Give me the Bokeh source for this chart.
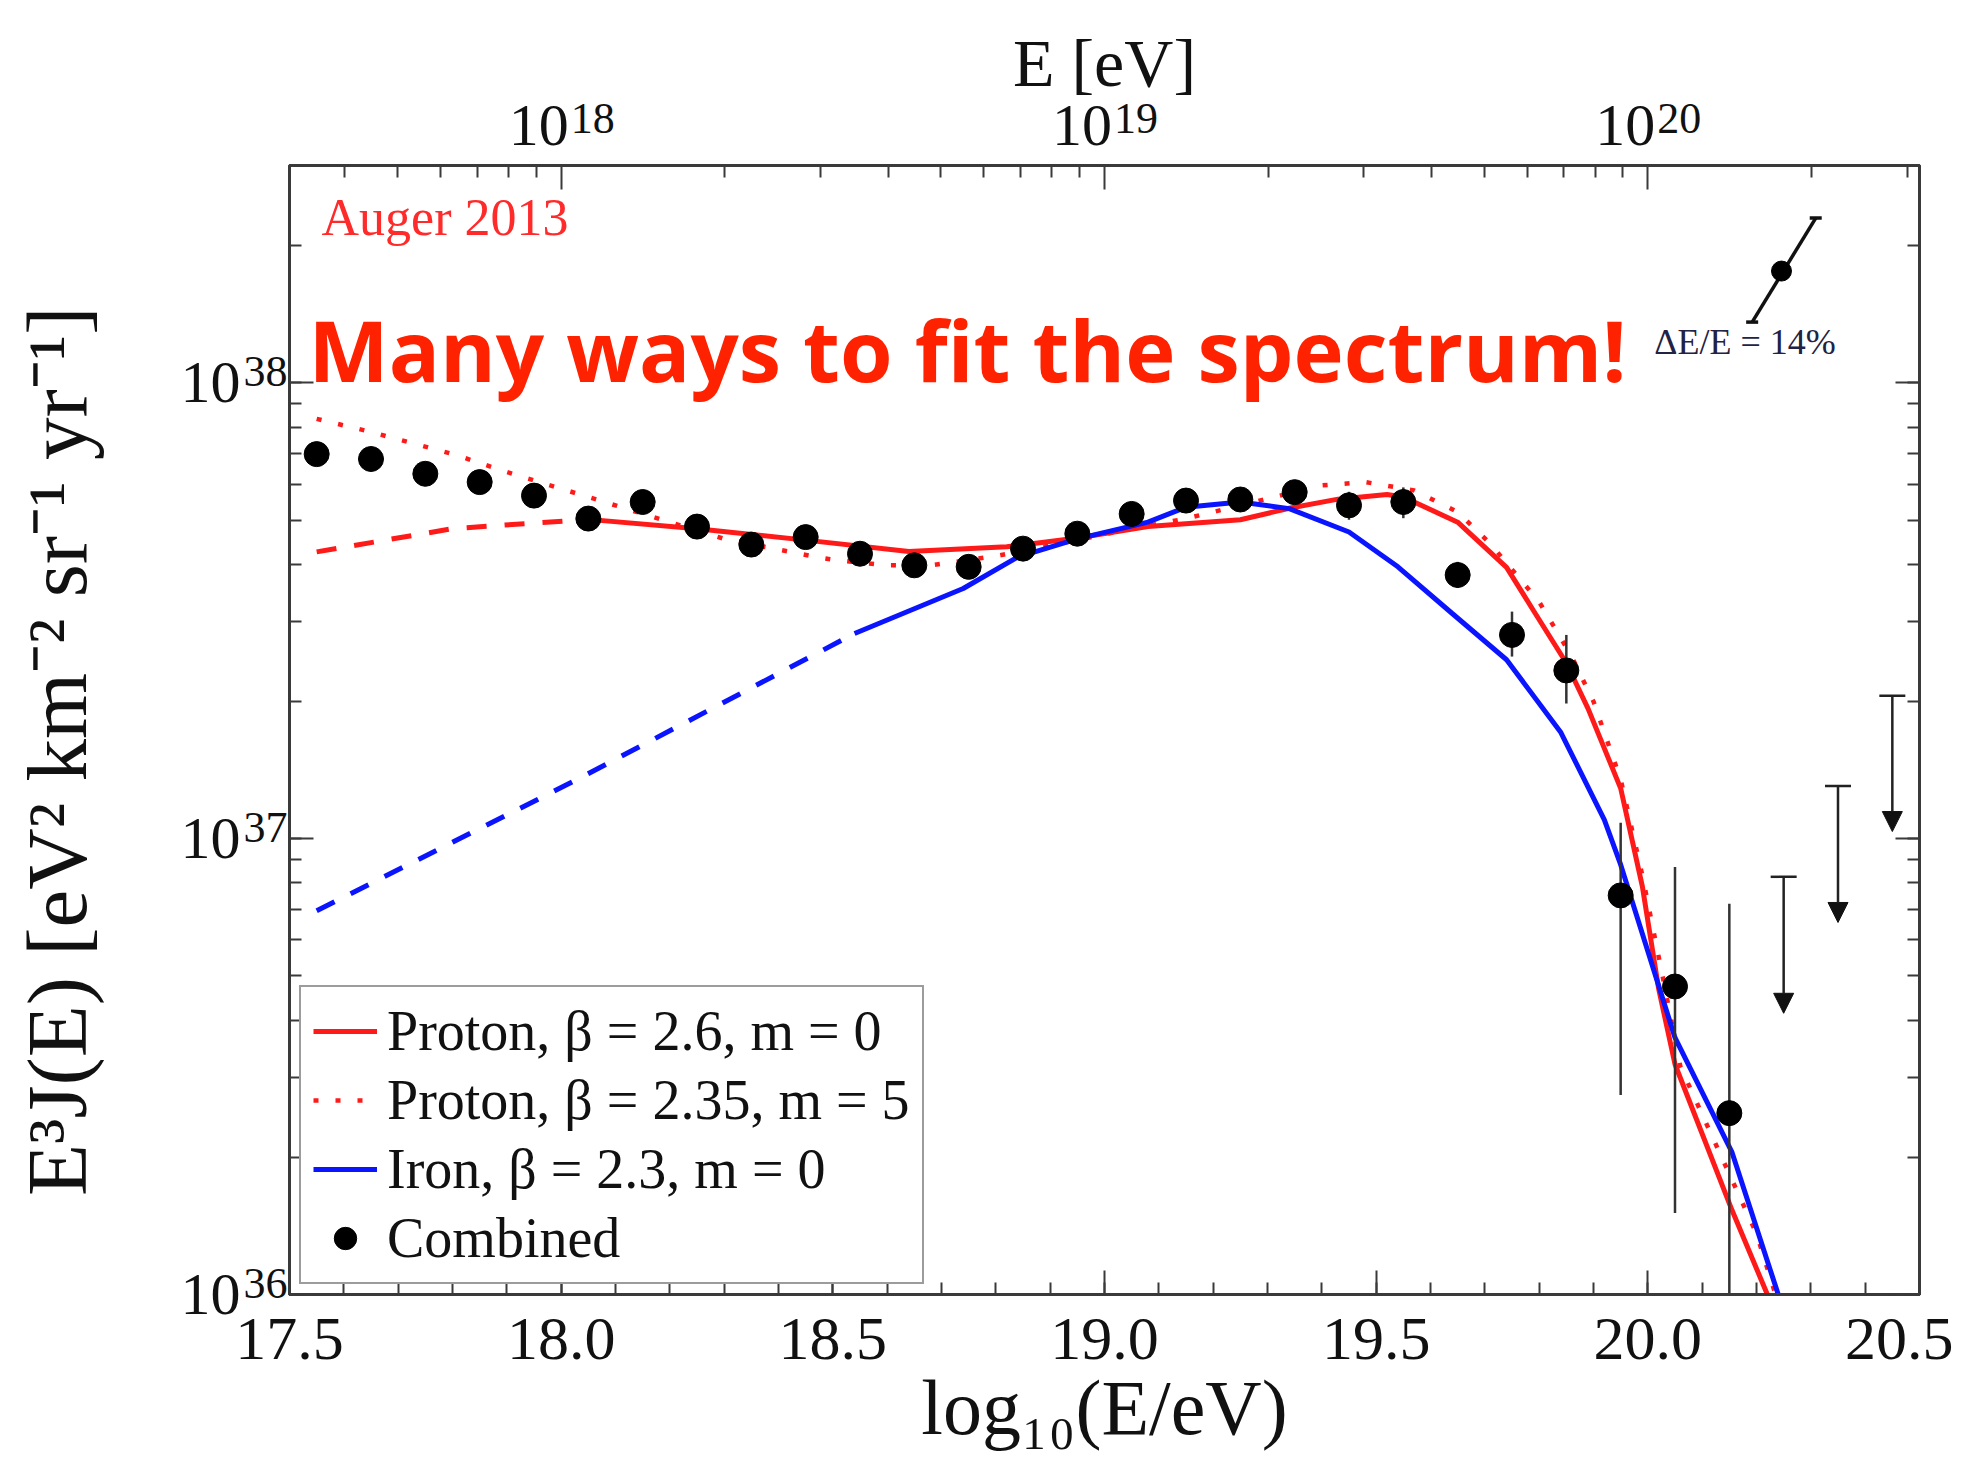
import numpy as np
from bokeh.plotting import figure
from bokeh.models import (ColumnDataSource, LinearAxis, LogAxis, FixedTicker, Range1d, LogScale,
                          Legend, LegendItem, Label, Arrow, NormalHead, TeeHead,
                          CustomJSTickFormatter, NumeralTickFormatter)
from bokeh.embed import file_html
from bokeh.resources import INLINE

# ---------------- data ----------------
combined_log_e = [17.55, 17.65, 17.75, 17.85, 17.95, 18.05, 18.15, 18.25, 18.35, 18.45,
                  18.55, 18.65, 18.75, 18.85, 18.95, 19.05, 19.15, 19.25, 19.35, 19.45,
                  19.55, 19.65, 19.75, 19.85, 19.95, 20.05, 20.15]
combined_flux = [6.98e37, 6.81e37, 6.32e37, 6.06e37, 5.66e37, 5.04e37, 5.48e37, 4.84e37, 4.42e37, 4.59e37,
                 4.22e37, 3.98e37, 3.95e37, 4.33e37, 4.67e37, 5.16e37, 5.52e37, 5.55e37, 5.76e37, 5.39e37,
                 5.48e37, 3.79e37, 2.80e37, 2.34e37, 7.51e36, 4.74e36, 2.50e36]
combined_lo = [6.90e37, 6.73e37, 6.25e37, 5.99e37, 5.59e37, 4.97e37, 5.40e37, 4.76e37, 4.34e37, 4.50e37,
               4.13e37, 3.88e37, 3.84e37, 4.20e37, 4.52e37, 4.97e37, 5.33e37, 5.29e37, 5.43e37, 5.01e37,
               5.05e37, 3.55e37, 2.51e37, 1.98e37, 2.74e36, 1.51e36, 5.0e35]
combined_hi = [7.06e37, 6.89e37, 6.40e37, 6.13e37, 5.73e37, 5.11e37, 5.56e37, 4.92e37, 4.50e37, 4.68e37,
               4.31e37, 4.08e37, 4.06e37, 4.46e37, 4.82e37, 5.35e37, 5.75e37, 5.80e37, 6.05e37, 5.77e37,
               5.90e37, 4.05e37, 3.15e37, 2.80e37, 1.084e37, 8.67e36, 7.20e36]

ul_log_e = [20.25, 20.35, 20.45]
ul_flux = [8.25e36, 1.306e37, 2.06e37]
ul_arrow_end = [4.14e36, 6.55e36, 1.037e37]

# Proton, beta = 2.6, m = 0 (dashed outside the fit range, solid inside)
p26_dash_log_e = [17.55, 17.80, 18.05]
p26_dash_flux = [4.26e37, 4.79e37, 5.02e37]
p26_log_e = [18.05, 18.25, 18.45, 18.64, 18.82, 18.95, 19.08, 19.25, 19.34, 19.43, 19.52, 19.55,
             19.65, 19.74, 19.79, 19.85, 19.89, 19.95, 19.99, 20.02, 20.05, 20.155, 20.22]
p26_flux = [5.02e37, 4.79e37, 4.52e37, 4.27e37, 4.37e37, 4.57e37, 4.84e37, 5.01e37, 5.31e37, 5.56e37,
            5.69e37, 5.62e37, 4.95e37, 3.94e37, 3.16e37, 2.43e37, 1.93e37, 1.29e37, 7.85e36, 4.68e36,
            3.20e36, 1.53e36, 1.0e36]

# Proton, beta = 2.35, m = 5 (dotted)
p235_log_e = [17.55, 17.64, 17.72, 17.81, 17.89, 17.97, 18.05, 18.13, 18.30, 18.47, 18.51, 18.60,
              18.68, 18.80, 18.95, 19.05, 19.15, 19.31, 19.40, 19.48, 19.57, 19.65, 19.71, 19.80,
              19.86, 19.90, 19.95, 19.99, 20.03, 20.06, 20.20, 20.235]
p235_flux = [8.34e37, 7.86e37, 7.41e37, 6.93e37, 6.43e37, 6.01e37, 5.62e37, 5.25e37, 4.55e37, 4.15e37,
             4.08e37, 3.98e37, 3.98e37, 4.17e37, 4.52e37, 4.79e37, 5.04e37, 5.61e37, 5.96e37, 6.06e37,
             5.81e37, 5.21e37, 4.44e37, 3.31e37, 2.51e37, 2.00e37, 1.35e37, 8.3e36, 4.8e36, 3.16e36,
             1.36e36, 1.0e36]

# Iron, beta = 2.3, m = 0
fe_dash_log_e = [17.55, 18.03, 18.54]
fe_dash_flux = [6.95e36, 1.35e37, 2.82e37]
fe_log_e = [18.54, 18.74, 18.84, 18.95, 19.08, 19.15, 19.25, 19.34, 19.45, 19.54, 19.64, 19.74,
            19.84, 19.92, 19.95, 20.05, 20.155, 20.24]
fe_flux = [2.82e37, 3.54e37, 4.15e37, 4.55e37, 4.95e37, 5.34e37, 5.48e37, 5.30e37, 4.71e37, 3.95e37,
           3.12e37, 2.47e37, 1.71e37, 1.10e37, 8.77e36, 3.66e36, 2.05e36, 1.0e36]

# energy-scale uncertainty marker (Delta E / E = 14 %)
escale_log_e = [20.246]
escale_flux = [1.76e38]
escale_end_log_e = [20.192, 20.309]
escale_end_flux = [1.36e38, 2.30e38]

x_major = [17.5, 18.0, 18.5, 19.0, 19.5, 20.0, 20.5]
top_major = [18, 19, 20]          # exponents of E [eV]
y_major = [1e36, 1e37, 1e38]

RED = "#ff1a1a"
BLUE = "#0a14ff"
SERIF = "Liberation Serif"
AXC = "#3a3a3a"
TXT = "#111111"
Y_MIN, Y_MAX = 1e36, 3e38

# ---------------- figure ----------------
p = figure(output_backend="svg", toolbar_location=None,
           frame_width=1630, frame_height=1129,
           x_range=Range1d(17.5, 20.5), y_range=Range1d(Y_MIN, Y_MAX),
           y_axis_type="log",
           min_border_left=289, min_border_right=34, min_border_top=165, min_border_bottom=140)
p.background_fill_color = "white"
p.border_fill_color = "white"
p.outline_line_color = AXC
p.outline_line_width = 3
p.xgrid.visible = False
p.ygrid.visible = False

# helper ranges that only shift the exponent labels of the tick labels
EXP_RAISE = 1.0596      # ~11 px up on the log axis
EXP_SHIFT = 0.058       # ~31 px right on the top axis
p.extra_y_ranges = {"exp": Range1d(Y_MIN / EXP_RAISE, Y_MAX / EXP_RAISE)}
p.extra_y_scales = {"exp": LogScale()}
p.extra_x_ranges = {"expx": Range1d(17.5 - EXP_SHIFT, 20.5 - EXP_SHIFT)}

x_minor = [round(17.5 + 0.1 * i, 1) for i in range(31)]
top_minor = [float(np.log10(k)) + n for n in (17, 18, 19, 20) for k in range(2, 10)]
top_minor = [t for t in top_minor if 17.5 <= t <= 20.5]
y_minor = [k * 10.0 ** n for n in (36, 37, 38) for k in range(1, 10)]


def style_axis(ax, ticks=True):
    ax.axis_line_color = AXC if ticks else None
    ax.axis_line_width = 3
    ax.major_tick_line_color = AXC if ticks else None
    ax.minor_tick_line_color = AXC if ticks else None
    ax.major_tick_line_width = 2
    ax.minor_tick_line_width = 2
    ax.major_tick_in = 24 if ticks else 0
    ax.major_tick_out = 0
    ax.minor_tick_in = 12 if ticks else 0
    ax.minor_tick_out = 0
    ax.major_label_text_font = SERIF
    ax.major_label_text_font_size = "60px"
    ax.major_label_text_color = TXT
    ax.axis_label_text_font = SERIF
    ax.axis_label_text_font_style = "normal"
    ax.axis_label_text_color = TXT


# bottom axis
xb = p.xaxis[0]
style_axis(xb)
xb.ticker = FixedTicker(ticks=x_major, minor_ticks=x_minor)
xb.formatter = NumeralTickFormatter(format="0.0")
xb.major_label_text_font_size = "62px"
xb.axis_label = "log\u2081\u2080(E/eV)"
xb.axis_label_text_font_size = "78px"
xb.major_label_standoff = 24
xb.axis_label_standoff = 2

# left: ticks (inner), exponents (middle), "10" + axis title (outer)
yl = p.yaxis[0]
style_axis(yl)
yl.ticker = FixedTicker(ticks=y_major, minor_ticks=y_minor)
yl.formatter = CustomJSTickFormatter(code="return '';")
yl.major_label_text_font_size = "1px"
yl.major_label_standoff = 0

yl_exp = LogAxis(y_range_name="exp")
style_axis(yl_exp, ticks=False)
yl_exp.ticker = FixedTicker(ticks=y_major, minor_ticks=[])
yl_exp.formatter = CustomJSTickFormatter(code="return String(Math.round(Math.log10(tick)));")
yl_exp.major_label_text_font_size = "44px"
yl_exp.major_label_standoff = 2
p.add_layout(yl_exp, "left")

yl_ten = LogAxis()
style_axis(yl_ten, ticks=False)
yl_ten.ticker = FixedTicker(ticks=y_major, minor_ticks=[])
yl_ten.formatter = CustomJSTickFormatter(code="return '10';")
yl_ten.major_label_standoff = 0
yl_ten.axis_label = "E\u00b3J(E)   [eV\u00b2 km\u207b\u00b2 sr\u207b\u00b9 yr\u207b\u00b9]"
yl_ten.axis_label_text_font_size = "85px"
yl_ten.axis_label_standoff = 74
p.add_layout(yl_ten, "left")

# top: ticks + "10" (inner), exponents + axis title (outer)
xt = LinearAxis()
style_axis(xt)
xt.ticker = FixedTicker(ticks=top_major, minor_ticks=top_minor)
xt.formatter = CustomJSTickFormatter(code="return '10\u2007\u2005';")
xt.major_label_standoff = 8
p.add_layout(xt, "above")

xt_exp = LinearAxis(x_range_name="expx")
style_axis(xt_exp, ticks=False)
xt_exp.ticker = FixedTicker(ticks=top_major, minor_ticks=[])
xt_exp.formatter = CustomJSTickFormatter(code="return String(Math.round(tick));")
xt_exp.major_label_text_font_size = "44px"
xt_exp.major_label_standoff = -44
xt_exp.axis_label = "E [eV]"
xt_exp.axis_label_text_font_size = "68px"
xt_exp.axis_label_standoff = 0
p.add_layout(xt_exp, "above")

# right axis (ticks only)
yr = LogAxis()
style_axis(yr)
yr.ticker = FixedTicker(ticks=y_major, minor_ticks=y_minor)
yr.formatter = CustomJSTickFormatter(code="return '';")
yr.major_label_text_font_size = "1px"
p.add_layout(yr, "right")

# ---------------- model curves ----------------
p.line(p26_dash_log_e, p26_dash_flux, line_color=RED, line_width=5, line_dash="20 18")
r_p26 = p.line(p26_log_e, p26_flux, line_color=RED, line_width=5)
r_p235 = p.line(p235_log_e, p235_flux, line_color=RED, line_width=4.5, line_dash="5 17")
p.line(fe_dash_log_e, fe_dash_flux, line_color=BLUE, line_width=5, line_dash="20 18")
r_fe = p.line(fe_log_e, fe_flux, line_color=BLUE, line_width=5)

# ---------------- data points ----------------
src = ColumnDataSource(dict(x=combined_log_e, y=combined_flux, lo=combined_lo, hi=combined_hi))
p.segment(x0="x", y0="lo", x1="x", y1="hi", source=src, line_color="#333333", line_width=2.5)
r_dat = p.scatter(x="x", y="y", source=src, size=25, fill_color="black", line_color="black")

ul_src = ColumnDataSource(dict(x=ul_log_e, y0=ul_flux, y1=ul_arrow_end))
p.add_layout(Arrow(source=ul_src, x_start="x", y_start="y0", x_end="x", y_end="y1",
                   line_color="#222222", line_width=2.5,
                   start=TeeHead(size=26, line_color="#222222", line_width=2.5),
                   end=NormalHead(size=20, fill_color="#111111", line_color="#111111")))

# energy scale marker
p.line(escale_end_log_e, escale_end_flux, line_color="#111111", line_width=3.5)
p.scatter(escale_end_log_e, escale_end_flux, marker="dash", size=12, line_color="#111111", line_width=3.5)
p.scatter(escale_log_e, escale_flux, size=20, fill_color="black", line_color="black")

# ---------------- texts ----------------
p.add_layout(Label(x=20.012, y=1.23e38, text="\u0394E/E = 14%", text_font=SERIF,
                   text_font_size="36px", text_color="#222244", text_baseline="alphabetic"))
p.add_layout(Label(x=17.559, y=2.31e38, text="Auger 2013", text_font=SERIF,
                   text_font_size="52px", text_color="#ff2a2a", text_baseline="alphabetic"))
p.add_layout(Label(x=17.535, y=1.19e38, text="Many ways to fit the spectrum!", text_font="Open Sans",
                   text_font_style="bold", text_font_size="85px", text_color="#ff2200",
                   text_baseline="alphabetic"))

# ---------------- legend ----------------
legend = Legend(items=[
    LegendItem(label="Proton, \u03b2 = 2.6, m = 0", renderers=[r_p26]),
    LegendItem(label="Proton, \u03b2 = 2.35, m = 5", renderers=[r_p235]),
    LegendItem(label="Iron, \u03b2 = 2.3, m = 0", renderers=[r_fe]),
    LegendItem(label="Combined", renderers=[r_dat]),
], location=(10, 10))
legend.label_text_font = SERIF
legend.label_text_font_size = "56px"
legend.label_text_color = TXT
legend.glyph_width = 64
legend.glyph_height = 56
legend.label_height = 56
legend.label_standoff = 10
legend.spacing = 5
legend.padding = 12
legend.margin = 0
legend.border_line_color = AXC
legend.border_line_width = 2.5
legend.background_fill_color = "white"
legend.background_fill_alpha = 1.0
p.add_layout(legend)

open("out.html", "w").write(file_html(p, INLINE))
